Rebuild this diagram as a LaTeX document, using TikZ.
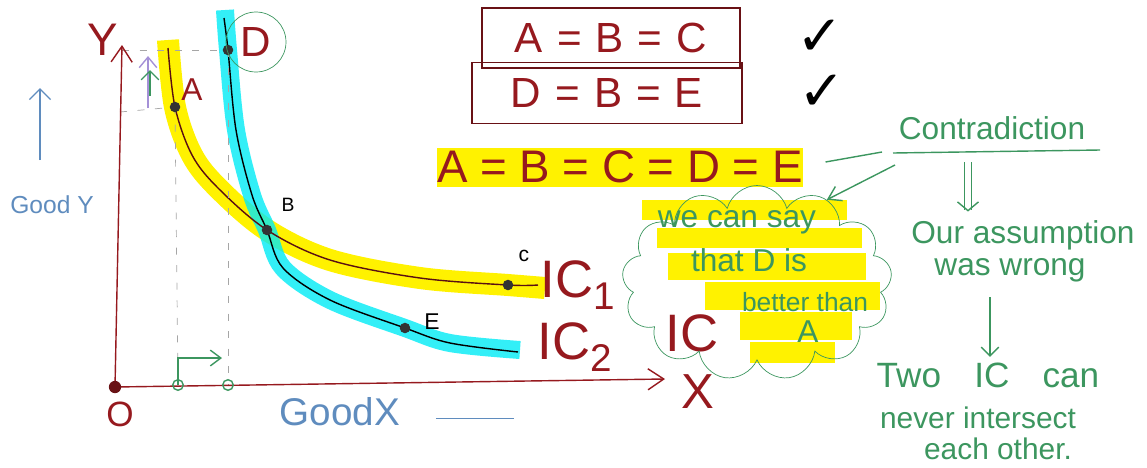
\documentclass[tikz,border=0pt]{standalone}
\usepackage{fontspec}
\setmainfont{Liberation Sans}
\newfontfamily\symfont{DejaVu Sans}
\usepackage{tikz}
\usetikzlibrary{arrows.meta, positioning, shapes.symbols, calc}
\definecolor{inkred}{RGB}{150,25,30}
\definecolor{inkgreen}{RGB}{60,150,95}
\definecolor{inkblue}{RGB}{95,140,190}
\definecolor{inkpurple}{RGB}{165,145,215}
\definecolor{hiyellow}{RGB}{255,242,0}
\definecolor{hicyan}{RGB}{0,235,245}
\tikzset{
  hand/.style={font=\fontsize{#1}{#1}\selectfont, inner sep=0pt},
  axis/.style={inkred, thick, -{Straight Barb[length=9pt, width=12pt]}},
  guide/.style={gray!70, thin, dash pattern=on 4pt off 6pt},
  note/.style={inkgreen, line width=0.8pt},
  marker/.style={fill=hiyellow, draw=none},
}
\newcommand{\sub}[1]{\raisebox{-0.45ex}{\fontsize{22}{22}\selectfont #1}}

\begin{document}
\begin{tikzpicture}[x=0.02cm, y=-0.02cm, >=Stealth, thick]
    \useasboundingbox (0,0) rectangle (1147,467);
    \coordinate (O) at (115,387);
    \coordinate (ytip) at (122,45);
    \coordinate (xtip) at (665,379);
    \coordinate (A) at (175,107);
    \coordinate (B) at (267,230);
    \coordinate (C) at (508,285);
    \coordinate (D) at (228,50);
    \coordinate (E) at (405,328);
    \coordinate (fA) at (178,385);
    \coordinate (fD) at (228,385);
    % highlighted curves
    \draw[hiyellow, line width=0.44cm] plot[smooth, tension=0.55]
        coordinates {(168,40) (A) (192,155) (218,188) (B) (330,260) (420,278) (C) (545,288)};
    \draw[hicyan, opacity=0.8, line width=0.36cm] plot[smooth, tension=0.55]
        coordinates {(225,10) (D) (236,130) (252,195) (B) (283,268) (330,300) (E) (450,343) (520,350)};
    \draw[inkred!60!black] plot[smooth, tension=0.55]
        coordinates {(168,48) (A) (192,155) (218,188) (B) (330,260) (420,278) (C) (538,285)};
    \draw[black] plot[smooth, tension=0.55]
        coordinates {(224,18) (D) (236,130) (252,195) (B) (283,268) (330,300) (E) (450,343) (518,352)};
    % guide lines
    \draw[guide] (122,50) -- (D);
    \draw[guide] (120,112) -- (A);
    \draw[guide] (A) -- (fA);
    \draw[guide] (D) -- (fD);
    % axes
    \draw[axis] (O) -- (ytip);
    \draw[axis] (O) -- (xtip);
    \fill[inkred!70!black] (O) circle (3.5pt);
    \foreach \p in {A,B,C,D,E} \fill[black!80] (\p) circle (3pt);
    \node[hand=20, text=inkred] (labO) at (120,414) {O};
    \node[hand=26, text=inkred] (labY) at (103,40) {Y};
    \node[hand=28, text=inkred] (labX) at (698,392) {X};
    \node[hand=18, text=inkred] (labA) at (192,90) {A};
    \node[hand=11] (labB) at (288,205) {B};
    \node[hand=12] (labC) at (524,256) {c};
    \node[hand=13] (labE) at (432,322) {E};
    \node[hand=24, text=inkred, circle, draw=inkgreen, thin, minimum size=1.2cm] (labD) at (256,42) {D};
    \node[hand=30, text=inkred] (ic1) at (578,285) {IC\sub{1}};
    \node[hand=30, text=inkred] (ic2) at (575,347) {IC\sub{2}};
    \node[hand=30, text=inkred] (ic) at (692,333) {IC};
    % shifts along the axes
    \draw[inkpurple, -{Straight Barb[length=6pt, width=10pt]}] (148,108) -- (148,56);
    \draw[inkgreen, -{Straight Barb[length=5pt]}] (150,96) -- (150,70);
    \draw[inkgreen, -{Straight Barb[length=6pt, width=9pt]}] (fA) |- ($(fD)+(-6,-27)$);
    \draw[inkgreen] (fA) circle (3pt);
    \draw[inkgreen] (fD) circle (3pt);
    % axis names
    \draw[inkblue, -{Straight Barb[length=6pt]}] (40,160) -- (40,88);
    \node[hand=14, text=inkblue] (goodY) at (52,205) {Good Y};
    \node[hand=22, text=inkblue] (goodX) at (340,412) {GoodX};
    \draw[inkblue, thin] ($(goodX.east)+(35,6)$) -- ++(78,0);
    % equalities
    \node[draw=inkred!70!black, minimum width=5.16cm, minimum height=1.2cm, hand=24, text=inkred] (eq1) at (611,38) {A\,\,=\,\,B\,\,=\,\,C};
    \node[draw=inkred!70!black, minimum width=5.4cm, minimum height=1.22cm, hand=24, text=inkred] (eq2) at (607,93) {D\,\,=\,\,B\,\,=\,\,E};
    \node[hand=32, right=55 of eq1.east] (tick1) {\symfont ✓};
    \node[hand=32, right=55 of eq2.east] (tick2) {\symfont ✓};
    \node[marker, minimum width=7cm, minimum height=0.78cm, hand=26, text=inkred] (eqall) at (620,167) {A = B = C = D = E};
    % contradiction
    \node[hand=18, text=inkgreen] (contra) at (992,128) {Contradiction};
    \coordinate (ul1) at (893,153);
    \coordinate (ul2) at (1100,150);
    \draw[note] (ul1) -- (ul2);
    \draw[note] ($(eqall.east)+(22,-5)$) -- ($(ul1)+(-11,-1)$);
    % thought cloud
    \fill[marker] (642,200) rectangle (847,220);
    \fill[marker] (657,228) rectangle (862,248);
    \fill[marker] (668,253) rectangle (866,280);
    \fill[marker] (705,282) rectangle (880,310);
    \fill[marker] (740,312) rectangle (852,340);
    \fill[marker] (750,342) rectangle (835,363);
    \node[cloud, cloud puffs=13, aspect=1.4, draw=inkgreen, thin, minimum width=5.4cm, minimum height=3.9cm] (cloud) at (757,283) {};
    \node[hand=18, text=inkgreen] (say1) at (737,222) {we can say};
    \node[hand=18, text=inkgreen] (say2) at (749,260) {that D is};
    \node[hand=15, text=inkgreen] (say3) at (805,302) {better than};
    \node[hand=18, text=inkgreen] (say4) at (808,332) {A};
    \draw[note, -{Straight Barb[length=7pt, width=9pt]}] ($(ul1)+(2,12)$) -- (cloud.50);
    % conclusion
    \node[hand=18, text=inkgreen] (assume) at (1023,235) {Our assumption};
    \node[hand=18, text=inkgreen] (wrong) at (1010,270) {was wrong};
    \node[hand=20, text=inkgreen] (two) at (988,375) {Two\,\,\,\, IC\,\,\,\, can};
    \node[hand=17, text=inkgreen] (never) at (978,418) {never intersect};
    \node[hand=17, text=inkgreen] (each) at (998,449) {each other.};
    \coordinate (dtop) at (968,162);
    \coordinate (atop) at (990,297);
    \draw[note, double=white, double distance=3pt, -{Straight Barb[length=5pt, width=12pt]}] (dtop) -- ($(dtop |- assume.north)+(0,-8)$);
    \draw[note, -{Straight Barb[length=5pt]}] (atop) -- ($(atop |- two.north)+(0,-5)$);
\end{tikzpicture}
\end{document}
